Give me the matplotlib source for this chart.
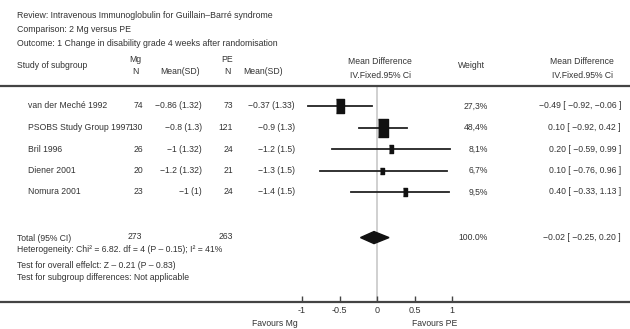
import matplotlib
matplotlib.use('Agg')
import matplotlib.pyplot as plt
from matplotlib.transforms import blended_transform_factory
import numpy as np

plt.rcParams['font.family'] = ['Liberation Sans', 'DejaVu Sans']
plt.rcParams['font.size'] = 6.2

# dati
studies = ['van der Meché 1992', 'PSOBS Study Group 1997', 'Bril 1996', 'Diener 2001', 'Nomura 2001']
mg_n = [74, 130, 26, 20, 23]
mg_msd = ['−0.86 (1.32)', '−0.8 (1.3)', '−1 (1.32)', '−1.2 (1.32)', '−1 (1)']
pe_n = [73, 121, 24, 21, 24]
pe_msd = ['−0.37 (1.33)', '−0.9 (1.3)', '−1.2 (1.5)', '−1.3 (1.5)', '−1.4 (1.5)']
weights = [27.3, 48.4, 8.1, 6.7, 9.5]
md = [-0.50, 0.08, 0.19, 0.07, 0.37]
ci_lo = [-0.92, -0.24, -0.60, -0.76, -0.35]
ci_hi = [-0.07, 0.40, 0.97, 0.93, 0.96]
md_text = ['−0.49 [ −0.92, −0.06 ]', '0.10 [ −0.92, 0.42 ]', '0.20 [ −0.59, 0.99 ]',
           '0.10 [ −0.76, 0.96 ]', '0.40 [ −0.33, 1.13 ]']

total_mg, total_pe = 273, 263
total_md, total_lo, total_hi = -0.04, -0.22, 0.16
total_text = '−0.02 [ −0.25, 0.20 ]'

title_lines = ['Review: Intravenous Immunoglobulin for Guillain–Barré syndrome',
               'Comparison: 2 Mg versus PE',
               'Outcome: 1 Change in disability grade 4 weeks after randomisation']
foot_lines = ['Heterogeneity: Chi² = 6.82. df = 4 (P – 0.15); I² = 41%',
              'Test for overall effelct: Z – 0.21 (P – 0.83)',
              'Test for subgroup differences: Not applicable']
xticks = [-1, -0.5, 0, 0.5, 1]
xtick_labels = ['-1', '-0.5', '0', '0.5', '1']

W, H = 630, 329
txt = '#333333'
fig = plt.figure(figsize=(W / 100, H / 100), dpi=100)

# asse del forest plot: x in unita' di effetto, y in righe
ax = fig.add_axes([0, (H - 302) / H, 1, (302 - 86) / H])
ax.set_xlim(-377 / 75, (W - 377) / 75)
ax.set_ylim((302 - 84.5) / 21.5, (86 - 84.5) / 21.5)
for s in ['left', 'right']:
    ax.spines[s].set_visible(False)
for s in ['top', 'bottom']:
    ax.spines[s].set_color('#444444')
    ax.spines[s].set_linewidth(1.6)
ax.set_yticks([])
ax.set_xticks(xticks)
ax.set_xticklabels(xtick_labels)
ax.tick_params(axis='x', direction='in', length=4, width=1, color='#444444',
               labelcolor=txt, labelsize=6.5, pad=3)
ax.axvline(0, color='#c8c8c8', lw=1.2, zorder=1)

rows = np.arange(1, len(studies) + 1)
for i, r in enumerate(rows):
    ax.plot([ci_lo[i], ci_hi[i]], [r, r], color='#222222', lw=1.3, zorder=2)
    h = 2.5 * np.sqrt(weights[i]) * 0.72
    ax.plot(md[i], r, marker=[(-0.28, -0.5), (0.28, -0.5), (0.28, 0.5), (-0.28, 0.5)],
            ms=h, color='#111111', mec='#111111', zorder=3)

total_row = 7.12
ax.fill([total_lo, total_md, total_hi, total_md],
        [total_row, total_row - 0.28, total_row, total_row + 0.28],
        color='#111111', zorder=3)

# testi
def ft(x, y, s, ha='left', **kw):
    fig.text(x / W, 1 - y / H, s, ha=ha, va='center', color=txt, **kw)

tr = blended_transform_factory(fig.transFigure, ax.transData)

def rt(x, r, s, ha='left'):
    ax.text(x / W, r, s, transform=tr, ha=ha, va='center', color=txt, clip_on=False)

for i, line in enumerate(title_lines):
    ft(17, 16 + i * 14, line, fontsize=6.3)

ft(17, 65, 'Study of subgroup')
ft(135, 60, 'Mg', ha='center')
ft(135, 72, 'N', ha='center')
ft(180, 72, 'Mean(SD)', ha='center')
ft(227, 60, 'PE', ha='center')
ft(227, 72, 'N', ha='center')
ft(263, 72, 'Mean(SD)', ha='center')
ft(380, 62, 'Mean Difference', ha='center')
ft(380, 75, 'IV.Fixed.95% Ci', ha='center')
ft(471, 65, 'Weight', ha='center')
ft(582, 62, 'Mean Difference', ha='center')
ft(582, 75, 'IV.Fixed.95% Ci', ha='center')

for i, r in enumerate(rows):
    rt(28, r, studies[i])
    rt(143, r, str(mg_n[i]), ha='right')
    rt(202, r, mg_msd[i], ha='right')
    rt(233, r, str(pe_n[i]), ha='right')
    rt(295, r, pe_msd[i], ha='right')
    rt(488, r, ('%.1f%%' % weights[i]).replace('.', ','), ha='right')
    rt(621, r, md_text[i], ha='right')

rt(17, total_row + 0.05, 'Total (95% CI)')
rt(135, total_row - 0.05, str(total_mg), ha='center')
rt(226, total_row - 0.05, str(total_pe), ha='center')
rt(488, total_row, '%.1f%%' % sum(weights), ha='right')
rt(621, total_row, total_text, ha='right')

for i, line in enumerate(foot_lines):
    ft(17, [250, 265, 278][i], line)

ax.text(-1.05, -0.1, 'Favours Mg', transform=blended_transform_factory(ax.transData, ax.transAxes),
        ha='right', va='center', color=txt)
ax.text(0.47, -0.1, 'Favours PE', transform=blended_transform_factory(ax.transData, ax.transAxes),
        ha='left', va='center', color=txt)

fig.savefig('out.png', dpi=100, facecolor='white')
